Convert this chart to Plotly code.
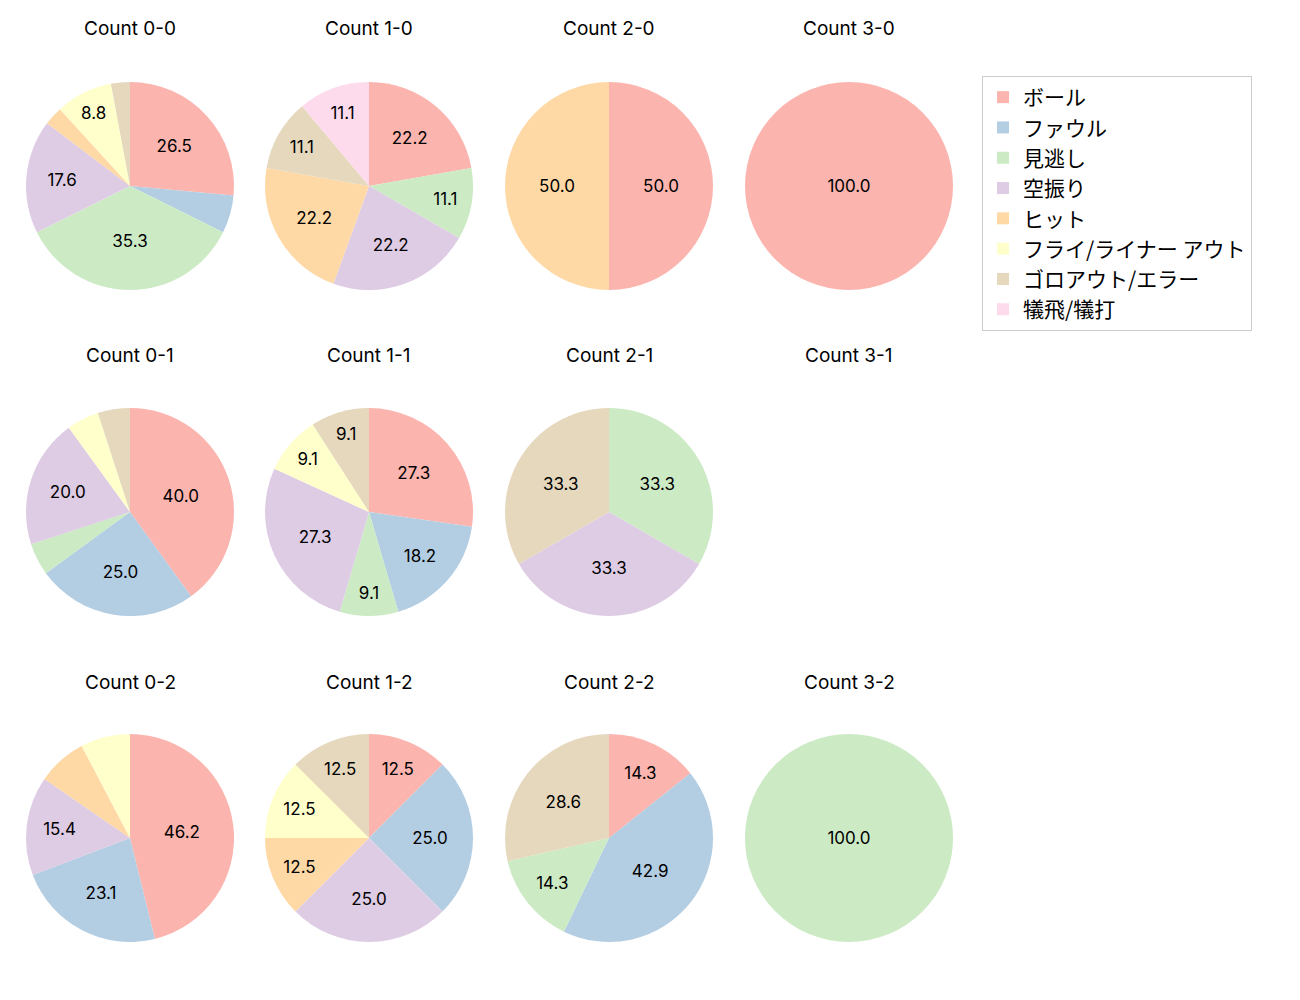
import plotly.graph_objects as go

categories = ["ボール", "ファウル", "見逃し", "空振り", "ヒット",
              "フライ/ライナー アウト", "ゴロアウト/エラー", "犠飛/犠打"]
colors = ["#fbb4ae", "#b3cde3", "#ccebc5", "#decbe4", "#fed9a6",
          "#ffffcc", "#e5d8bd", "#fddaec"]

titles = ["Count 0-0", "Count 1-0", "Count 2-0", "Count 3-0",
          "Count 0-1", "Count 1-1", "Count 2-1", "Count 3-1",
          "Count 0-2", "Count 1-2", "Count 2-2", "Count 3-2"]

# counts per category in the order of `categories`
count_0_0 = [9, 2, 12, 6, 1, 3, 1, 0]
count_1_0 = [2, 0, 1, 2, 2, 0, 1, 1]
count_2_0 = [1, 0, 0, 0, 1, 0, 0, 0]
count_3_0 = [1, 0, 0, 0, 0, 0, 0, 0]
count_0_1 = [8, 5, 1, 4, 0, 1, 1, 0]
count_1_1 = [3, 2, 1, 3, 0, 1, 1, 0]
count_2_1 = [0, 0, 1, 1, 0, 0, 1, 0]
count_3_1 = [0, 0, 0, 0, 0, 0, 0, 0]
count_0_2 = [6, 3, 0, 2, 1, 1, 0, 0]
count_1_2 = [1, 2, 0, 2, 1, 1, 1, 0]
count_2_2 = [1, 3, 1, 0, 0, 0, 2, 0]
count_3_2 = [0, 0, 1, 0, 0, 0, 0, 0]

all_counts = [count_0_0, count_1_0, count_2_0, count_3_0,
              count_0_1, count_1_1, count_2_1, count_3_1,
              count_0_2, count_1_2, count_2_2, count_3_2]

W, H = 1300, 1000
OFF = 8  # page body margin
col_cx = [130 - OFF, 369 - OFF, 609 - OFF, 849 - OFF]
row_cy = [186 - OFF, 512 - OFF, 838 - OFF]
R = 104
title_y = [28 - OFF, 355 - OFF, 682 - OFF]

FONT = "Inter, Noto Sans CJK JP, DejaVu Sans, sans-serif"
LFONT = "Noto Sans CJK JP, Inter, sans-serif"

fig = go.Figure()
annotations = []
for i, (title, vals) in enumerate(zip(titles, all_counts)):
    r, c = divmod(i, 4)
    cx, cy = col_cx[c], row_cy[r]
    annotations.append(dict(
        x=cx / W, y=1 - title_y[r] / H, xref="paper", yref="paper",
        text=title, showarrow=False, font=dict(size=19, color="#000", family=FONT),
        xanchor="center", yanchor="middle"))
    total = sum(vals)
    if total == 0:
        continue
    texts = []
    for v in vals:
        p = 100 * v / total
        texts.append(f"{p:.1f}" if p >= 8 else "")
    fig.add_trace(go.Pie(
        labels=categories, values=vals, text=texts,
        textinfo="text", textposition="inside",
        insidetextorientation="horizontal",
        textfont=dict(size=17, color="#000", family=FONT),
        marker=dict(colors=colors, line=dict(width=0)),
        sort=False, direction="clockwise", rotation=0,
        domain=dict(x=[(cx - R) / W, (cx + R) / W],
                    y=[1 - (cy + R) / H, 1 - (cy - R) / H]),
        showlegend=(i == 0 or i == 1),
        hoverinfo="label+percent",
    ))

fig.update_layout(
    width=W, height=H,
    margin=dict(l=0, r=0, t=0, b=0),
    paper_bgcolor="white", plot_bgcolor="white",
    font=dict(family=FONT, color="#000"),
    annotations=annotations,
    legend=dict(
        x=(982 - OFF) / W, y=1 - (76 - OFF) / H, xanchor="left", yanchor="top",
        bordercolor="#cccccc", borderwidth=1, bgcolor="white",
        font=dict(size=21, family=LFONT, color="#000"),
        traceorder="normal",
    ),
)

fig.write_html("out.html")
